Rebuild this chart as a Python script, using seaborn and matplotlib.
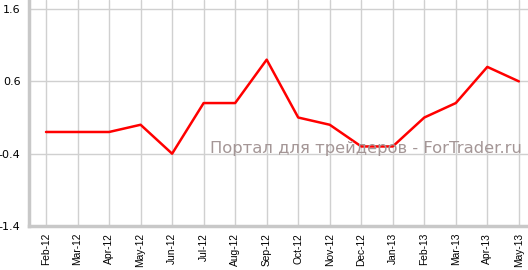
import matplotlib
matplotlib.use("Agg")
import matplotlib.pyplot as plt
import seaborn as sns
import pandas as pd

months = ["Feb-12", "Mar-12", "Apr-12", "May-12", "Jun-12", "Jul-12", "Aug-12", "Sep-12",
          "Oct-12", "Nov-12", "Dec-12", "Jan-13", "Feb-13", "Mar-13", "Apr-13", "May-13"]
values = [-0.1, -0.1, -0.1, 0.0, -0.4, 0.3, 0.3, 0.9, 0.1, 0.0, -0.3, -0.3, 0.1, 0.3, 0.8, 0.6]
yticks = [-1.4, -0.4, 0.6, 1.6]
watermark = "Портал для трейдеров - ForTrader.ru"

sns.set_style("white")
plt.rcParams['font.family'] = ['DejaVu Sans']

df = pd.DataFrame({"idx": range(len(months)), "value": values})

fig = plt.figure(figsize=(5.28, 2.70), dpi=100)
ax = fig.add_axes([29/528, 1 - 226/270, (528-29)/528, 226/270])
sns.lineplot(data=df, x="idx", y="value", ax=ax, color="#ff0000", linewidth=1.8, zorder=3)

ax.set_xlim(-0.54, 15.29)
ax.set_ylim(-1.4, 1.725)
ax.set_xticks(range(len(months)))
ax.set_xticklabels(months, rotation=90, fontsize=7.4, family=['Liberation Sans', 'DejaVu Sans'])
ax.set_yticks(yticks)
ax.set_yticklabels([f"{v:.1f}" for v in yticks], fontsize=8)
ax.set_xlabel("")
ax.set_ylabel("")
ax.grid(True, color="#d0d0d0", linewidth=1)
ax.set_axisbelow(True)
for s in ["top", "right"]:
    ax.spines[s].set_visible(False)
for s in ["left", "bottom"]:
    ax.spines[s].set_color("#c8c8c8")
    ax.spines[s].set_linewidth(2.5)
ax.tick_params(axis="both", which="major", length=4, width=1, color="#c8c8c8", pad=2, labelcolor="#000000")
ax.tick_params(axis="x", pad=1)

ax.text(15.1, -0.386, watermark, ha="right", va="baseline",
        fontsize=11.8, color="#a49696", zorder=4)

fig.savefig("out.png", dpi=100)
